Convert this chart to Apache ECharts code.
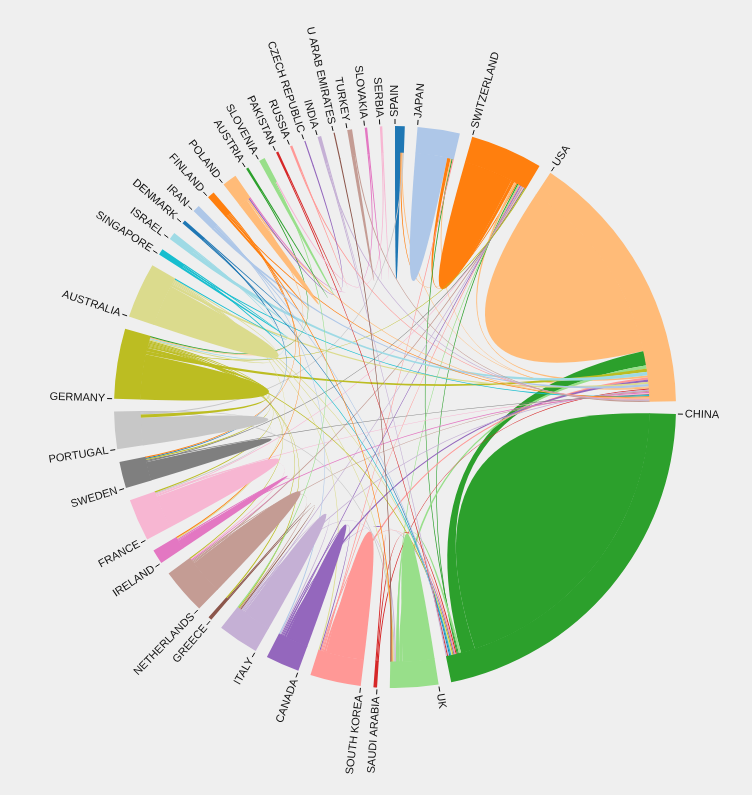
<!DOCTYPE html>
<html>
<head>
<meta charset="utf-8">
<title>Country collaboration chord diagram</title>
<script src="https://cdn.jsdelivr.net/npm/echarts@6/dist/echarts.min.js"></script>
<style>
    html, body { margin: 0; padding: 0; background: #efefef; }
    #chart { width: 752px; height: 795px; }
</style>
</head>
<body>
<div id="chart"></div>
<script>
// --- data ---

// countries, clockwise from 12 o'clock
const countries = [
    'SPAIN', 'JAPAN', 'SWITZERLAND', 'USA', 'CHINA', 'UK', 'SAUDI ARABIA', 'SOUTH KOREA',
    'CANADA', 'ITALY', 'GREECE', 'NETHERLANDS', 'IRELAND', 'FRANCE', 'SWEDEN', 'PORTUGAL',
    'GERMANY', 'AUSTRALIA', 'SINGAPORE', 'ISRAEL', 'DENMARK', 'IRAN', 'FINLAND', 'POLAND',
    'AUSTRIA', 'SLOVENIA', 'PAKISTAN', 'RUSSIA', 'CZECH REPUBLIC', 'INDIA', 'U ARAB EMIRATES',
    'TURKEY', 'SLOVAKIA', 'SERBIA'
];

// domestic collaborations (self links), same order as countries
const selfValues = [
    5, 29, 45, 175, 281, 29, 1, 35,
    21, 26, 1, 32, 8, 30, 17, 25,
    41, 38, 2, 2, 1, 2, 2, 8,
    1, 3, 1, 1, 0, 1, 0,
    3, 1, 1
];

// international collaborations
const linkFrom = [
    'USA', 'USA', 'USA', 'USA', 'USA', 'USA', 'USA', 'USA', 'USA', 'USA', 'USA', 'USA',
    'USA', 'USA', 'USA', 'USA', 'USA', 'USA', 'USA', 'USA', 'USA', 'USA', 'USA',
    'CHINA', 'CHINA', 'CHINA', 'CHINA', 'CHINA', 'CHINA', 'CHINA', 'CHINA', 'CHINA', 'CHINA',
    'CHINA', 'CHINA', 'CHINA',
    'UK', 'UK', 'UK', 'UK', 'UK',
    'SOUTH KOREA', 'SOUTH KOREA', 'SOUTH KOREA', 'SOUTH KOREA',
    'CANADA', 'CANADA', 'CANADA',
    'ITALY', 'ITALY', 'ITALY', 'ITALY', 'ITALY',
    'GREECE',
    'NETHERLANDS', 'NETHERLANDS', 'NETHERLANDS', 'NETHERLANDS',
    'IRELAND', 'IRELAND',
    'FRANCE', 'FRANCE', 'FRANCE',
    'SWEDEN', 'SWEDEN', 'SWEDEN', 'SWEDEN',
    'PORTUGAL', 'PORTUGAL', 'PORTUGAL',
    'GERMANY', 'GERMANY', 'GERMANY', 'GERMANY',
    'AUSTRALIA',
    'POLAND', 'POLAND', 'POLAND',
    'SLOVENIA',
    'SPAIN', 'JAPAN'
];
const linkTo = [
    'CHINA', 'UK', 'GERMANY', 'ISRAEL', 'IRAN', 'CANADA', 'SOUTH KOREA', 'SWITZERLAND', 'JAPAN', 'SPAIN', 'SAUDI ARABIA', 'AUSTRALIA',
    'SINGAPORE', 'ITALY', 'NETHERLANDS', 'FRANCE', 'SWEDEN', 'POLAND', 'RUSSIA', 'INDIA', 'TURKEY', 'FINLAND', 'IRELAND',
    'UK', 'SOUTH KOREA', 'SWITZERLAND', 'JAPAN', 'GERMANY', 'AUSTRALIA', 'CANADA', 'SINGAPORE', 'PAKISTAN', 'DENMARK',
    'INDIA', 'SAUDI ARABIA', 'IRAN',
    'SWITZERLAND', 'ITALY', 'AUSTRALIA', 'FINLAND', 'U ARAB EMIRATES',
    'SWITZERLAND', 'CANADA', 'AUSTRALIA', 'JAPAN',
    'SWITZERLAND', 'ITALY', 'IRAN',
    'SWITZERLAND', 'GERMANY', 'NETHERLANDS', 'GREECE', 'SLOVENIA',
    'GERMANY',
    'GERMANY', 'SWITZERLAND', 'IRELAND', 'FRANCE',
    'FINLAND', 'AUSTRALIA',
    'SWITZERLAND', 'GERMANY', 'PORTUGAL',
    'GERMANY', 'DENMARK', 'FINLAND', 'SWITZERLAND',
    'GERMANY', 'SPAIN', 'UK',
    'SWITZERLAND', 'AUSTRALIA', 'AUSTRIA', 'ISRAEL',
    'SINGAPORE',
    'SLOVAKIA', 'GERMANY', 'CZECH REPUBLIC',
    'SERBIA',
    'SWITZERLAND', 'SWITZERLAND'
];
const linkValues = [
    13, 3, 3, 3, 2, 2, 2, 2, 1, 1, 1, 2,
    1, 1, 1, 1, 1, 1, 1, 1, 1, 1, 1,
    2, 1, 1, 1, 1, 1, 1, 1, 1, 1,
    1, 1, 1,
    1, 1, 1, 1, 1,
    1, 1, 1, 1,
    1, 1, 1,
    1, 1, 1, 1, 1,
    1,
    1, 1, 1, 1,
    1, 1,
    1, 1, 1,
    1, 1, 1, 1,
    3, 1, 1,
    1, 1, 1, 1,
    1,
    1, 1, 1,
    1,
    1, 3
];

// d3 category20
const palette = [
    '#1f77b4', '#aec7e8', '#ff7f0e', '#ffbb78', '#2ca02c', '#98df8a', '#d62728', '#ff9896',
    '#9467bd', '#c5b0d5', '#8c564b', '#c49c94', '#e377c2', '#f7b6d2', '#7f7f7f', '#c7c7c7',
    '#bcbd22', '#dbdb8d', '#17becf', '#9edae5'
];

// --- layout ---
const CX = 395;
const CY = 407;
const INNER_R = 255;
const OUTER_R = 281;
const PAD = 2.6 * Math.PI / 180;

function buildChords() {
    const n = countries.length;
    const matrix = countries.map(() => new Array(n).fill(0));
    selfValues.forEach((v, i) => { matrix[i][i] = v; });
    linkValues.forEach((v, k) => {
        const i = countries.indexOf(linkFrom[k]);
        const j = countries.indexOf(linkTo[k]);
        matrix[i][j] += v;
        matrix[j][i] += v;
    });

    const total = matrix.reduce((s, row) => s + row.reduce((a, b) => a + b, 0), 0);
    const k = (2 * Math.PI - PAD * n) / total;

    const groups = [];
    const subgroups = [];
    let x = 0;
    for (let i = 0; i < n; i++) {
        const x0 = x;
        // biggest partner first
        const order = matrix[i].map((v, j) => j).sort((a, b) => matrix[i][b] - matrix[i][a]);
        subgroups[i] = [];
        order.forEach(j => {
            const a0 = x;
            x += matrix[i][j] * k;
            subgroups[i][j] = [a0, x];
        });
        groups.push({ index: i, start: x0, end: x });
        x += PAD;
    }

    const chords = [];
    for (let i = 0; i < n; i++) {
        for (let j = i; j < n; j++) {
            if (matrix[i][j] > 0) {
                chords.push({ color: j, source: subgroups[j][i], target: subgroups[i][j] });
            }
        }
    }
    return { groups, chords };
}

// angle is measured from 12 o'clock, clockwise
function pt(angle, r) {
    const t = angle - Math.PI / 2;
    return (CX + r * Math.cos(t)).toFixed(2) + ' ' + (CY + r * Math.sin(t)).toFixed(2);
}

function arcTo(a0, a1, r) {
    const large = a1 - a0 > Math.PI ? 1 : 0;
    return ' A ' + r + ' ' + r + ' 0 ' + large + ' 1 ' + pt(a1, r);
}

function ribbonPath(s, t) {
    const r = INNER_R;
    let d = 'M ' + pt(s[0], r) + arcTo(s[0], s[1], r);
    if (s[0] !== t[0] || s[1] !== t[1]) {
        d += ' Q ' + CX + ' ' + CY + ' ' + pt(t[0], r) + arcTo(t[0], t[1], r);
    }
    d += ' Q ' + CX + ' ' + CY + ' ' + pt(s[0], r) + ' Z';
    return d;
}

const layout = buildChords();

const chart = echarts.init(document.getElementById('chart'));

const option = {
    backgroundColor: '#efefef',
    animation: false,
    series: [
        {
            type: 'custom',
            name: 'links',
            coordinateSystem: 'none',
            silent: true,
            data: layout.chords.map((c, i) => [i]),
            renderItem: function (params) {
                const c = layout.chords[params.dataIndex];
                return {
                    type: 'path',
                    shape: { pathData: ribbonPath(c.source, c.target) },
                    style: { fill: palette[c.color % palette.length] }
                };
            }
        },
        {
            type: 'custom',
            name: 'countries',
            coordinateSystem: 'none',
            silent: true,
            data: layout.groups.map((g, i) => [i]),
            renderItem: function (params) {
                const g = layout.groups[params.dataIndex];
                const t = g.start - Math.PI / 2;
                const flip = g.start > Math.PI;
                const cos = Math.cos(t);
                const sin = Math.sin(t);
                return {
                    type: 'group',
                    children: [
                        {
                            type: 'sector',
                            shape: {
                                cx: CX, cy: CY, r0: INNER_R - 0.5, r: OUTER_R,
                                startAngle: g.start - Math.PI / 2,
                                endAngle: g.end - Math.PI / 2,
                                clockwise: true
                            },
                            style: { fill: palette[g.index % palette.length] }
                        },
                        {
                            type: 'line',
                            shape: {
                                x1: CX + (OUTER_R + 2) * cos, y1: CY + (OUTER_R + 2) * sin,
                                x2: CX + (OUTER_R + 7) * cos, y2: CY + (OUTER_R + 7) * sin
                            },
                            style: { stroke: '#111', lineWidth: 1 }
                        },
                        {
                            type: 'text',
                            x: CX + (OUTER_R + 9) * cos,
                            y: CY + (OUTER_R + 9) * sin,
                            rotation: flip ? Math.PI - t : -t,
                            style: {
                                text: countries[g.index],
                                fill: '#111',
                                fontSize: 11,
                                fontFamily: '"Liberation Sans", Arial, sans-serif',
                                align: flip ? 'right' : 'left',
                                verticalAlign: 'middle'
                            }
                        }
                    ]
                };
            }
        }
    ]
};

chart.setOption(option);
</script>
</body>
</html>
